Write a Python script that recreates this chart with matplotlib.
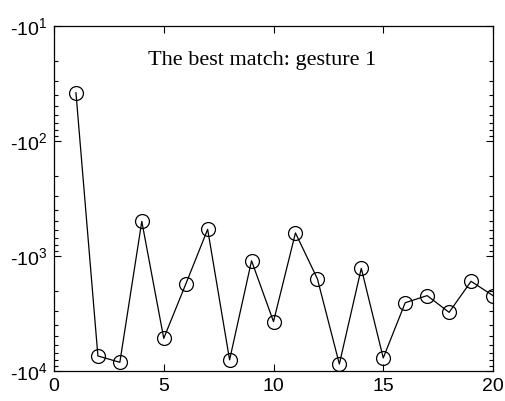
import numpy as np
import matplotlib
matplotlib.use("Agg")
import matplotlib.pyplot as plt
from matplotlib.ticker import FixedLocator, FuncFormatter

# gesture index and matching score (negative, log magnitude)
gesture = list(range(1, 21))
score = [-38, -7400, -8400, -500, -5200, -1760, -586, -8000, -1100, -3720,
         -630, -1580, -8700, -1280, -7700, -2550, -2210, -3090, -1660, -2210]
title_text = "The best match: gesture 1"
x_ticks = [0, 5, 10, 15, 20]
y_ticks = [-1e4, -1e3, -1e2, -1e1]

fig = plt.figure(figsize=(5.05, 4.01), dpi=100)
ax = fig.add_axes([54 / 505, 1 - 371 / 401, 439 / 505, 345 / 401])

ax.plot(gesture, score, color="black", lw=0.9, marker="o", ms=10,
        mfc="none", mec="black", mew=0.9)

ax.set_yscale("symlog", linthresh=1)
ax.set_ylim(-1e4, -1e1)
ax.set_xlim(0, 20)

minor = [-m * 10 ** k for k in range(1, 4) for m in range(2, 10)]
ax.yaxis.set_major_locator(FixedLocator(y_ticks))
ax.yaxis.set_minor_locator(FixedLocator(minor))
ax.yaxis.set_major_formatter(FuncFormatter(
    lambda v, p: "-$\\mathregular{10^{%d}}$" % round(np.log10(-v))))
ax.xaxis.set_major_locator(FixedLocator(x_ticks))
ax.xaxis.set_minor_locator(FixedLocator([]))

ax.tick_params(which="both", direction="in", top=True, right=True,
               labelsize=14, width=0.8, pad=5)
ax.tick_params(which="major", length=5)
ax.tick_params(which="minor", length=3)
for lab in ax.get_xticklabels() + ax.get_yticklabels():
    lab.set_family("Liberation Sans")
for s in ax.spines.values():
    s.set_linewidth(0.9)

ax.text(0.475, 0.9, title_text, transform=ax.transAxes, ha="center",
        va="center", family="Liberation Serif", fontsize=16)

fig.savefig("out.png", dpi=100)
